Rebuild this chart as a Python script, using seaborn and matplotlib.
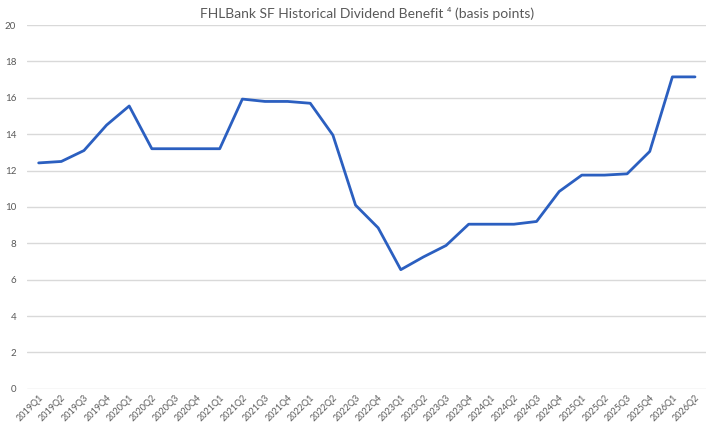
import numpy as np
import pandas as pd
import matplotlib.pyplot as plt
import seaborn as sns

quarters = [f'{y}Q{q}' for y in range(2019, 2027) for q in range(1, 5)][:30]
benefit_bp = [12.42, 12.5, 13.1, 14.5, 15.55, 13.2, 13.2, 13.2, 13.2, 15.93,
              15.8, 15.8, 15.7, 13.95, 10.1, 8.85, 6.55, 7.25, 7.88, 9.05,
              9.05, 9.05, 9.2, 10.85, 11.75, 11.75, 11.82, 13.05, 17.15, 17.15]

df = pd.DataFrame({'quarter': quarters, 'bp': benefit_bp})
df['pos'] = np.arange(len(df))

sns.set_style('white')
plt.rcParams['font.family'] = ['Lato', 'DejaVu Sans']

fig = plt.figure(figsize=(7.2, 4.32), dpi=100)
ax = fig.add_axes([0.038, 0.1, 0.943, 0.842])

sns.lineplot(data=df, x='pos', y='bp', color='#2b5fc0', linewidth=2.0, ax=ax)

ax.set_ylim(0, 20)
ax.set_yticks(range(0, 21, 2))
ax.set_xlim(-0.5, len(df) - 0.5)
ax.set_xticks(df['pos'])
ax.set_xticklabels(df['quarter'], rotation=45, ha='right', rotation_mode='anchor',
                   fontsize=6.5, color='#595959')
ax.tick_params(axis='y', labelsize=7, labelcolor='#595959', length=0, pad=8)
ax.tick_params(axis='x', length=0, pad=3)
ax.yaxis.grid(True, color='#d9d9d9', linewidth=1)
ax.set_axisbelow(True)
for s in ax.spines.values():
    s.set_visible(False)
ax.set_xlabel('')
ax.set_ylabel('')
ax.set_title('FHLBank SF Historical Dividend Benefit \u2074 (basis points)',
             fontsize=10, color='#595959', pad=5)

fig.savefig('out.png', dpi=100)
